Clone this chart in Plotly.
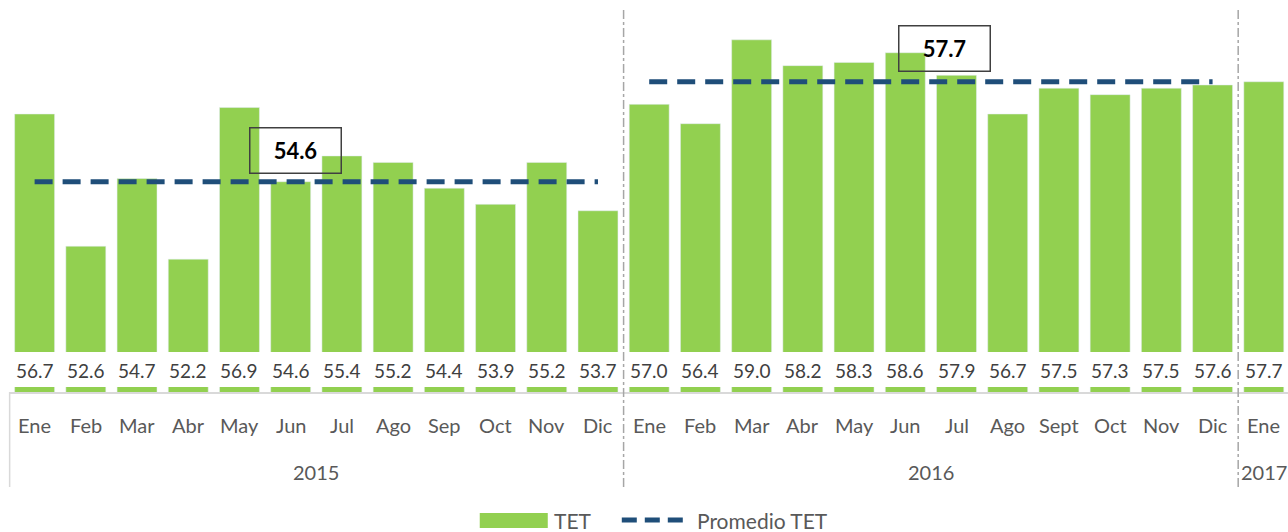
import plotly.graph_objects as go

years = ["2015", "2016", "2017"]
months_2015 = ["Ene", "Feb", "Mar", "Abr", "May", "Jun", "Jul", "Ago", "Sep", "Oct", "Nov", "Dic"]
months_2016 = ["Ene", "Feb", "Mar", "Abr", "May", "Jun", "Jul", "Ago", "Sept", "Oct", "Nov", "Dic"]
months_2017 = ["Ene"]
tet_2015 = [56.7, 52.6, 54.7, 52.2, 56.9, 54.6, 55.4, 55.2, 54.4, 53.9, 55.2, 53.7]
tet_2016 = [57.0, 56.4, 59.0, 58.2, 58.3, 58.6, 57.9, 56.7, 57.5, 57.3, 57.5, 57.6]
tet_2017 = [57.7]
avg_2015 = 54.6
avg_2016 = 57.7

months = months_2015 + months_2016 + months_2017
values = tet_2015 + tet_2016 + tet_2017
groups = [months_2015, months_2016, months_2017]
xs = list(range(len(values)))

W, H = 1288, 532
L, R, T, B = 9.4, 0.0, 8, 140
PW = W - L - R
PH = H - T - B
PX_PER_UNIT = 32.25
YMIN = 48.08
YMAX = YMIN + PH / PX_PER_UNIT
CAT_PX = 51.2


def px_x(p):
    return (p - L) / PW


def px_y(p):
    return (H - B - p) / PH


GREEN = "#92D050"
NAVY = "#1F4E79"
GRAY_TXT = "#595959"
FONT = "Lato"

fig = go.Figure()
fig.add_trace(go.Bar(x=xs, y=values, marker_color=GREEN, width=0.78,
                     name="TET", showlegend=False, hoverinfo="y"))

for yi, (grp, avg) in enumerate(zip(groups[:2], [avg_2015, avg_2016])):
    start = sum(len(g) for g in groups[:yi])
    end = start + len(grp) - 1
    fig.add_trace(go.Scatter(x=[start, end], y=[avg, avg], mode="lines",
                             line=dict(color=NAVY, width=5, dash="18px,10px"),
                             name="Promedio TET", showlegend=False, hoverinfo="skip"))

shapes = []
shapes.append(dict(type="rect", xref="paper", yref="paper", x0=0, x1=1,
                   y0=px_y(387), y1=px_y(352), fillcolor="white", line_width=0, layer="above"))
shapes.append(dict(type="line", xref="paper", yref="paper", x0=0.0005, x1=0.0005,
                   y0=0, y1=px_y(487), line=dict(color="#D9D9D9", width=1.5)))
pos = -0.5
for g in groups[:-1]:
    pos += len(g)
    shapes.append(dict(type="line", xref="x", yref="paper", x0=pos, x1=pos,
                       y0=px_y(487), y1=px_y(10),
                       line=dict(color="#A6A6A6", width=1.5, dash="dashdot"), layer="above"))

shapes.append(dict(type="rect", xref="paper", yref="paper", x0=px_x(480), x1=px_x(548),
                   y0=px_y(528), y1=px_y(513), fillcolor=GREEN, line_width=0))
shapes.append(dict(type="line", xref="paper", yref="paper", x0=px_x(622), x1=px_x(684),
                   y0=px_y(520), y1=px_y(520), line=dict(color=NAVY, width=5, dash="15px,8px")))

annotations = []
for x, v, m in zip(xs, values, months):
    annotations.append(dict(x=x, y=px_y(370), xref="x", yref="paper", yanchor="middle",
                            text=f"{v:.1f}", showarrow=False,
                            font=dict(family=FONT, size=19, color="#404040")))
    annotations.append(dict(x=x, y=px_y(425), xref="x", yref="paper", yanchor="middle",
                            text=m, showarrow=False,
                            font=dict(family=FONT, size=20, color=GRAY_TXT)))

start = 0
for yr, g in zip(years, groups):
    center = start + (len(g) - 1) / 2
    annotations.append(dict(x=center, y=px_y(472), xref="x", yref="paper", yanchor="middle",
                            text=yr, showarrow=False,
                            font=dict(family=FONT, size=20, color=GRAY_TXT)))
    start += len(g)

for cx, avg, dy in [(5.1, avg_2015, 0.97), (17.77, avg_2016, 1.02)]:
    annotations.append(dict(x=cx, y=avg + dy, xref="x", yref="y", yanchor="middle",
                            text=f"<b>{avg:.1f}</b>",
                            showarrow=False, width=90, height=44, bordercolor="#404040",
                            borderwidth=1.5, borderpad=0,
                            font=dict(family=FONT, size=22, color="black")))

annotations.append(dict(x=px_x(552), y=px_y(520), xref="paper", yref="paper", text="TET",
                        xanchor="left", yanchor="middle", showarrow=False,
                        font=dict(family=FONT, size=21, color=GRAY_TXT)))
annotations.append(dict(x=px_x(695), y=px_y(520), xref="paper", yref="paper", text="Promedio TET",
                        xanchor="left", yanchor="middle", showarrow=False,
                        font=dict(family=FONT, size=21, color=GRAY_TXT)))

fig.update_layout(
    width=W, height=H,
    margin=dict(l=L, r=R, t=T, b=B, pad=0),
    paper_bgcolor="white", plot_bgcolor="white",
    xaxis=dict(range=[-0.5, -0.5 + PW / CAT_PX], showticklabels=False, ticks="", showgrid=False,
               zeroline=False, showline=True, linecolor="#D9D9D9", linewidth=1.5),
    yaxis=dict(range=[YMIN, YMAX], visible=False, showgrid=False, zeroline=False),
    shapes=shapes, annotations=annotations, showlegend=False, bargap=0.22,
)

fig.write_html(
    "out.html",
    config={"displayModeBar": False},
    post_script="document.body.style.margin='0';document.body.style.overflow='hidden';"
                "document.documentElement.style.overflow='hidden';",
)
